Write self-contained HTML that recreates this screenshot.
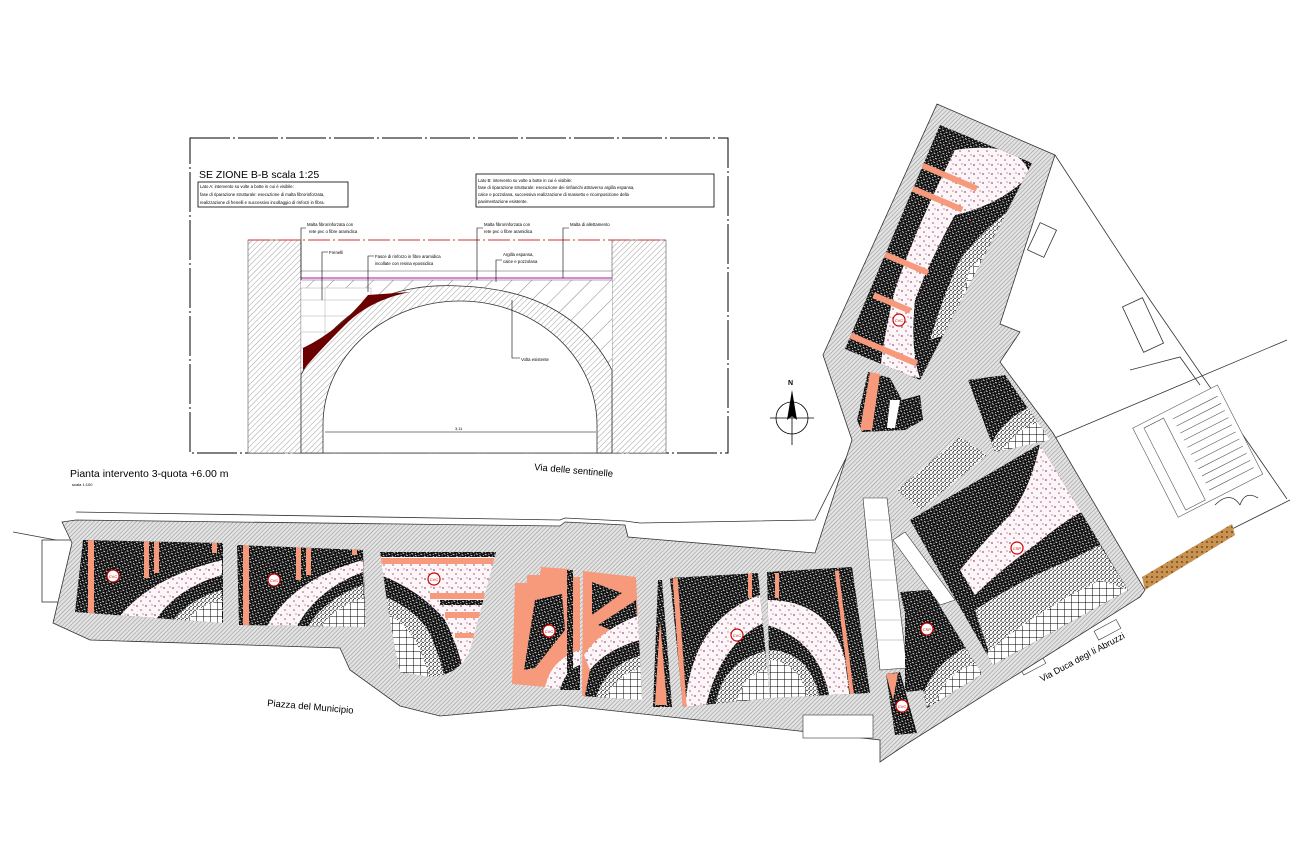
<!DOCTYPE html>
<html><head><meta charset="utf-8"><style>
html,body{margin:0;padding:0;background:#fff;}
svg{display:block;font-family:"Liberation Sans",sans-serif;}
</style></head><body>
<svg width="1300" height="867" viewBox="0 0 1300 867" xmlns="http://www.w3.org/2000/svg">
<defs>
<pattern id="h" width="3" height="3" patternUnits="userSpaceOnUse" patternTransform="rotate(45)">
<rect width="3" height="3" fill="#e2e2e2"/><line x1="0" y1="0" x2="0" y2="3" stroke="#8a8a8a" stroke-width="0.9"/></pattern>
<pattern id="d" width="4" height="4" patternUnits="userSpaceOnUse" patternTransform="rotate(30)">
<rect width="4" height="4" fill="#111"/><rect x="1" y="1" width="2" height="0.8" fill="#fff"/><rect x="0" y="3" width="0.8" height="1" fill="#fff"/></pattern>
<pattern id="g" width="7" height="7" patternUnits="userSpaceOnUse">
<rect width="7" height="7" fill="#fff"/><path d="M0 0H7M0 0V7" stroke="#000" stroke-width="1"/></pattern>
<pattern id="s" width="4" height="4" patternUnits="userSpaceOnUse">
<rect width="4" height="4" fill="#fff"/><circle cx="1" cy="1" r="0.7" fill="#000"/><circle cx="3" cy="2.5" r="0.7" fill="#000"/><circle cx="1.5" cy="3.5" r="0.5" fill="#000"/></pattern>
<pattern id="p" width="9" height="9" patternUnits="userSpaceOnUse">
<rect width="9" height="9" fill="#fdf6f8"/><circle cx="2" cy="3" r="0.9" fill="#a0507a"/><circle cx="6" cy="7" r="0.8" fill="#a0507a"/><circle cx="8" cy="2" r="0.6" fill="#a0507a"/></pattern>
<pattern id="b" width="5" height="5" patternUnits="userSpaceOnUse">
<rect width="5" height="5" fill="#c89250"/><circle cx="2" cy="2" r="1" fill="#7a4a1a"/></pattern>
<pattern id="sec" width="4" height="4" patternUnits="userSpaceOnUse" patternTransform="rotate(45)">
<rect width="4" height="4" fill="#fff"/><line x1="0" y1="0" x2="0" y2="4" stroke="#888" stroke-width="0.8"/></pattern>
<pattern id="sec2" width="14" height="14" patternUnits="userSpaceOnUse" patternTransform="rotate(45)">
<rect width="14" height="14" fill="#fff"/><line x1="0" y1="0" x2="0" y2="14" stroke="#333" stroke-width="0.6"/></pattern>
<clipPath id="c1"><polygon points="83,540 223,543 223,623 75,612"/></clipPath>
<clipPath id="c2"><polygon points="237,545 363,550 366,627 239,625"/></clipPath>
<clipPath id="c3"><path d="M380,552 L496,552 L470,650 Q460,675 430,677 L400,672 Q392,640 380,552Z"/></clipPath>
<clipPath id="c5"><polygon points="583,571 636,577 642,700 582,696"/></clipPath>
<clipPath id="c7"><polygon points="670,578 758,573 770,698 683,707"/></clipPath>
<clipPath id="c8"><polygon points="767,572 852,567 870,693 770,698"/></clipPath>
<clipPath id="c9"><polygon points="940,125 1032,163 920,380 845,349"/></clipPath>
<clipPath id="c10"><polygon points="910,520 1040,444 1128,590 993,665"/></clipPath>
<clipPath id="c11"><polygon points="900,592 930,590 982,674 927,708"/></clipPath>
<clipPath id="c12"><polygon points="968,380 1005,375 1050,440 995,452"/></clipPath>
</defs>

<!-- SECTION BOX -->
<rect x="190" y="138" width="538" height="315" fill="#fff" stroke="#000" stroke-width="1" stroke-dasharray="40,3,2,3"/>
<text x="199" y="178" font-size="10.5">SE ZIONE  B-B scala 1:25</text>
<rect x="198" y="182" width="150" height="25" fill="none" stroke="#000" stroke-width="0.8"/>
<text font-size="4.3"><tspan x="200" y="188">Lato A: intervento su volte a botte in cui è visibile:</tspan><tspan x="200" y="196">fase di riparazione strutturale: esecuzione di malta fibrorinforzata,</tspan><tspan x="200" y="204">realizzazione di frenelli e successivo incollaggio di rinforzi in fibra.</tspan></text>
<rect x="476" y="174" width="238" height="33" fill="none" stroke="#000" stroke-width="0.8"/>
<text font-size="4.3"><tspan x="478" y="182">Lato B: intervento su volte a botte in cui è visibile:</tspan><tspan x="478" y="189">fase di riparazione strutturale: esecuzione dei rinfianchi attraverso argilla espansa,</tspan><tspan x="478" y="196">calce e pozzolana, successiva realizzazione di massetto e ricomposizione della</tspan><tspan x="478" y="203">pavimentazione esistente.</tspan></text>
<rect x="248" y="240" width="53" height="213" fill="url(#sec)" stroke="#555" stroke-width="0.6"/>
<rect x="612" y="240" width="54" height="213" fill="url(#sec)" stroke="#555" stroke-width="0.6"/>
<rect x="301" y="271" width="311" height="100" fill="url(#sec2)"/>
<rect x="301" y="288" width="70" height="80" fill="#fff" stroke="#999" stroke-width="0.4"/>
<path d="M301 300H370M301 316H360M301 332H350M301 348H340M325 288V348" stroke="#999" stroke-width="0.4"/>
<rect x="301" y="271" width="311" height="9" fill="#fff" stroke="#555" stroke-width="0.5"/>
<line x1="301" y1="278" x2="612" y2="278" stroke="#c040c0" stroke-width="1.2"/>
<path d="M301 375 Q350 280 460 286 Q570 290 612 370 L612 453 L301 453Z" fill="url(#sec)" stroke="#333" stroke-width="0.8"/>
<path d="M323 453 V425 A137 124 0 0 1 597 425 V453Z" fill="#fff" stroke="#333" stroke-width="0.8"/>
<path d="M303 370 L303 348 Q340 330 368 295 L410 292 Q370 300 345 325 Q320 350 303 370Z" fill="#6b0000"/>
<line x1="248" y1="240" x2="668" y2="240" stroke="#d03030" stroke-width="1" stroke-dasharray="22,3,2,3"/>
<line x1="325" y1="432" x2="596" y2="432" stroke="#000" stroke-width="0.6"/>
<text x="455" y="430" font-size="4">3,11</text>
<g stroke="#000" stroke-width="0.6" fill="none">
<path d="M301 280V228H306"/><path d="M322 300V252H328"/><path d="M368 292V256H374"/><path d="M477 280V228H483"/><path d="M496 282V260H502"/><path d="M563 278V228H569"/><path d="M512 300V358H520"/></g>
<text font-size="4.3"><tspan x="307" y="226">Malta fibrorinforzata con</tspan><tspan x="309" y="233">rete pvc o fibre aramidica</tspan>
<tspan x="329" y="254">Frenelli</tspan><tspan x="375" y="258">Fasce di rinforzo in fibre aramidica</tspan><tspan x="375" y="265">incollate con resina epossidica</tspan>
<tspan x="484" y="226">Malta fibrorinforzata con</tspan><tspan x="484" y="233">rete pvc o fibre aramidica</tspan>
<tspan x="570" y="226">Malta di allettamento</tspan><tspan x="503" y="256">Argilla espansa,</tspan><tspan x="503" y="263">calce e pozzolana</tspan><tspan x="521" y="361">Volta esistente</tspan></text>

<text x="70" y="477" font-size="10.5">Pianta intervento 3-quota +6.00 m</text>
<text x="72" y="486" font-size="4">scala 1:100</text>
<text x="534" y="470" font-size="9.5" transform="rotate(5 534 470)">Via delle sentinelle</text>
<text x="267" y="706" font-size="9.5" transform="rotate(5 267 706)">Piazza del Municipio</text>
<text x="1042" y="682" font-size="9" transform="rotate(-28 1042 682)">Via Duca degl li Abruzzi</text>

<g stroke="#000" stroke-width="0.8" fill="none"><circle cx="792" cy="418" r="16"/><line x1="770" y1="418" x2="814" y2="418"/><line x1="792" y1="392" x2="792" y2="445"/></g>
<path d="M792 390 L797 420 L792 416 L787 420Z" fill="#000"/>
<text x="788" y="385" font-size="7" font-weight="bold">N</text>

<g stroke="#333" stroke-width="0.8" fill="none">
<path d="M76 512 L560 520 L565 518 L625 521 L640 523 L815 520 L850 450"/>
<path d="M13 532 L72 543"/>
<rect x="42" y="540" width="30" height="62" fill="#fff"/>
<path d="M1055 155 L1150 300 L1287 499"/>
<path d="M1130 370 L1180 357 L1200 385"/>
<path d="M1050 440 L1287 340"/>
<path d="M1230 530 L1290 500"/>
<rect x="1033" y="225" width="18" height="30" transform="rotate(25 1042 240)"/>
<rect x="1132" y="300" width="22" height="50" transform="rotate(-25 1143 325)"/>
</g>
<g transform="rotate(-27 1200 450)" stroke="#555" stroke-width="0.6" fill="#fff">
<rect x="1150" y="400" width="95" height="100"/><rect x="1160" y="405" width="22" height="92"/>
<path d="M1190 410H1240M1190 418H1240M1190 426H1240M1190 434H1240M1190 442H1240M1190 450H1240M1190 458H1240M1190 466H1240M1190 474H1240M1190 482H1240M1190 490H1240"/>
</g>
<path d="M1215 505 Q1230 490 1240 505 M1240 505 Q1245 490 1258 498" stroke="#333" fill="none" stroke-width="0.8"/>
<rect x="1020" y="660" width="25" height="10" fill="#fff" stroke="#333" stroke-width="0.6" transform="rotate(-28 1032 665)"/>
<rect x="1095" y="625" width="25" height="10" fill="#fff" stroke="#333" stroke-width="0.6" transform="rotate(-28 1107 630)"/>

<polygon fill="url(#h)" stroke="#333" stroke-width="0.8" points="62,522 76,520 560,526 565,522 625,525 628,537 815,553 852,440 823,355 937,104 1055,155 1000,324 1020,332 1000,362 1053,433 1145,590 1140,597 905,745 880,762 880,740 790,730 560,705 440,716 400,706 350,670 340,648 90,640 53,623 72,543"/>
<polygon points="863,498 887,498 907,668 880,670" fill="#fff" stroke="#333" stroke-width="0.6"/>
<path d="M868 520H895M869 540H897M870 560H899M871 580H901M873 600H903M874 620H905M876 640H906" stroke="#999" stroke-width="0.5"/>
<rect x="803" y="715" width="70" height="23" fill="#fff" stroke="#333" stroke-width="0.6"/>
<polygon points="893,540 905,532 955,600 940,605" fill="#fff" stroke="#333" stroke-width="0.6"/>

<g clip-path="url(#c1)"><rect x="70" y="535" width="160" height="95" fill="url(#d)"/>
<path d="M110 630 Q140 580 222 560 L222 630Z" fill="url(#p)"/>
<path d="M150 630 Q170 590 222 575 L222 630Z" fill="url(#d)"/>
<path d="M165 630 Q185 600 222 590 L222 630Z" fill="url(#s)"/>
<path d="M180 630 Q195 605 222 600 L222 630Z" fill="url(#g)"/>
<rect x="88" y="538" width="6" height="90" fill="#f79a7c"/><rect x="144" y="538" width="5" height="40" fill="#f79a7c"/><rect x="154" y="538" width="5" height="35" fill="#f79a7c"/><rect x="212" y="538" width="5" height="15" fill="#f79a7c"/></g>
<g clip-path="url(#c2)"><rect x="230" y="540" width="140" height="92" fill="url(#d)"/>
<path d="M265 630 Q290 580 363 560 L366 630Z" fill="url(#p)"/>
<path d="M295 630 Q315 590 363 572 L366 630Z" fill="url(#d)"/>
<path d="M305 630 Q325 598 363 585 L366 630Z" fill="url(#s)"/>
<path d="M318 630 Q335 605 366 598 L366 630Z" fill="url(#g)"/>
<rect x="243" y="540" width="6" height="90" fill="#f79a7c"/><rect x="296" y="540" width="5" height="40" fill="#f79a7c"/><rect x="306" y="540" width="5" height="35" fill="#f79a7c"/><rect x="352" y="540" width="5" height="15" fill="#f79a7c"/></g>
<g clip-path="url(#c3)"><rect x="375" y="548" width="125" height="132" fill="url(#p)"/>
<rect x="375" y="552" width="125" height="5" fill="url(#d)"/>
<path d="M380 575 Q420 590 445 620 Q460 650 465 680 L380 680Z" fill="url(#d)"/>
<path d="M380 595 Q410 605 428 630 Q440 655 445 680 L380 680Z" fill="url(#s)"/>
<path d="M380 610 Q400 618 415 640 Q425 660 430 680 L380 680Z" fill="url(#g)"/>
<rect x="380" y="558" width="120" height="6" fill="#f79a7c"/><rect x="430" y="593" width="70" height="6" fill="#f79a7c"/><rect x="440" y="600" width="60" height="5" fill="url(#d)"/><rect x="445" y="612" width="55" height="6" fill="#f79a7c"/><rect x="455" y="633" width="45" height="5" fill="#f79a7c"/></g>
<polygon points="541,567 570,569 572,577 580,577 580,690 512,684 515,583 527,583 527,575 540,575" fill="#f79a7c"/>
<polygon points="535,600 562,594 565,630 535,668 524,670" fill="url(#d)"/>
<path d="M545 688 Q550 660 580 650 L580 690Z" fill="url(#p)"/>
<path d="M560 690 Q565 670 580 665 L580 690Z" fill="url(#d)"/>
<rect x="567" y="570" width="6" height="120" fill="url(#d)"/>
<g clip-path="url(#c5)"><rect x="580" y="568" width="65" height="135" fill="#f79a7c"/>
<polygon points="592,582 622,593 592,615" fill="url(#d)"/>
<polygon points="598,625 636,600 638,640" fill="url(#d)"/>
<path d="M584 655 Q600 630 640 615 L640 640 Q605 650 590 670Z" fill="url(#p)"/>
<path d="M590 670 Q605 650 640 640 L642 700 L584 700Z" fill="url(#d)"/>
<path d="M595 700 Q605 665 642 655 L642 700Z" fill="url(#s)"/>
<path d="M605 700 Q615 675 642 668 L642 700Z" fill="url(#g)"/></g>
<polygon points="658,580 662,580 672,707 653,707" fill="url(#d)"/><polygon points="660,620 667,705 655,705" fill="#f79a7c"/>
<g clip-path="url(#c7)"><rect x="665" y="570" width="110" height="140" fill="url(#d)"/>
<path d="M685 710 Q690 620 760 595 L770 620 Q720 640 705 710Z" fill="url(#p)"/>
<path d="M715 710 Q720 660 770 650 L770 710Z" fill="url(#s)"/>
<path d="M735 710 Q740 675 770 668 L770 710Z" fill="url(#g)"/>
<rect x="677" y="578" width="5" height="130" fill="#f79a7c" transform="rotate(-4 680 640)"/><rect x="748" y="573" width="4" height="25" fill="#f79a7c"/></g>
<g clip-path="url(#c8)"><rect x="765" y="565" width="110" height="140" fill="url(#d)"/>
<path d="M767 600 Q830 600 845 660 L850 700 L830 700 Q820 640 767 625Z" fill="url(#p)"/>
<path d="M767 650 Q810 650 820 700 L767 700Z" fill="url(#s)"/>
<path d="M767 660 Q800 660 808 700 L767 700Z" fill="url(#g)"/>
<rect x="775" y="573" width="4" height="25" fill="#f79a7c"/><rect x="842" y="570" width="4" height="125" fill="#f79a7c" transform="rotate(-7 844 630)"/></g>
<g clip-path="url(#c9)"><rect x="830" y="120" width="210" height="265" fill="url(#d)"/>
<path d="M955 150 Q1020 140 1030 175 Q1000 205 955 215 Q930 260 915 300 Q910 350 920 378 L880 370 Q885 330 895 290 Q915 230 955 150Z" fill="url(#p)"/>
<path d="M930 340 Q945 290 960 260 Q985 225 1025 200 L1040 230 L960 330 Z" fill="url(#s)"/>
<path d="M935 380 Q955 320 970 270 Q995 240 1030 225 L1040 240 L940 390Z" fill="url(#g)"/>
<g fill="#f79a7c"><rect x="930" y="135" width="110" height="6" transform="rotate(23 985 138)"/><rect x="900" y="170" width="80" height="6" transform="rotate(23 940 173)"/><rect x="895" y="193" width="70" height="6" transform="rotate(23 930 196)"/><rect x="880" y="260" width="50" height="6" transform="rotate(23 905 263)"/><rect x="872" y="300" width="40" height="6" transform="rotate(23 892 303)"/><rect x="840" y="345" width="80" height="6" transform="rotate(23 880 348)"/></g></g>
<polygon points="868,372 890,378 902,400 920,395 923,420 905,430 862,432 857,420" fill="url(#d)"/>
<polygon points="870,372 880,374 872,430 860,430" fill="#f79a7c"/>
<polygon points="890,400 900,400 895,428 887,428" fill="#fff"/>
<g clip-path="url(#c12)"><rect x="960" y="370" width="95" height="90" fill="url(#d)"/><path d="M985 455 Q1005 410 1050 400 L1055 460Z" fill="url(#s)"/><path d="M1000 455 Q1015 425 1055 418 L1055 460Z" fill="url(#g)"/></g>
<polygon points="897,490 960,437 987,455 920,510" fill="url(#s)"/>
<g clip-path="url(#c10)"><rect x="900" y="440" width="235" height="230" fill="url(#d)"/>
<path d="M1040 444 Q1030 490 1010 515 Q985 540 960 570 L975 595 Q1000 570 1035 545 Q1065 520 1085 510 Z" fill="url(#p)"/>
<path d="M975 610 Q1020 580 1070 560 L1100 545 L1128 590 L993 665Z" fill="url(#s)"/>
<path d="M985 655 Q1030 615 1100 580 L1128 590 L993 665Z" fill="url(#g)"/></g>
<g clip-path="url(#c11)"><rect x="895" y="585" width="90" height="125" fill="url(#d)"/><path d="M920 705 Q930 660 982 640 L982 710Z" fill="url(#s)"/><path d="M935 705 Q945 670 982 662 L982 710Z" fill="url(#g)"/></g>
<polygon points="886,674 900,672 917,733 895,735" fill="url(#d)"/><polygon points="886,674 898,673 893,700" fill="#f79a7c"/>
<polygon points="905,592 925,590 925,690 905,692" fill="url(#d)"/>
<polygon points="1142,577 1232,524 1235,535 1145,590" fill="url(#b)"/>

<g fill="#fff" stroke="#c00" stroke-width="1.2">
<circle cx="113" cy="576" r="6"/><circle cx="274" cy="580" r="6"/><circle cx="434" cy="579" r="6"/><circle cx="549" cy="631" r="6"/><circle cx="737" cy="635" r="6"/><circle cx="899" cy="320" r="6"/><circle cx="1017" cy="548" r="6"/><circle cx="927" cy="629" r="6"/><circle cx="902" cy="706" r="6"/></g>
<g font-size="4" fill="#c00" text-anchor="middle">
<text x="113" y="578">CVC</text><text x="274" y="582">CVC</text><text x="434" y="581">CVC</text><text x="549" y="633">CVC</text><text x="737" y="637">CVC</text><text x="899" y="322">CVC</text><text x="1017" y="550">CSP</text><text x="927" y="631">CSP</text><text x="902" y="708">CVC</text></g>
</svg>
</body></html>
